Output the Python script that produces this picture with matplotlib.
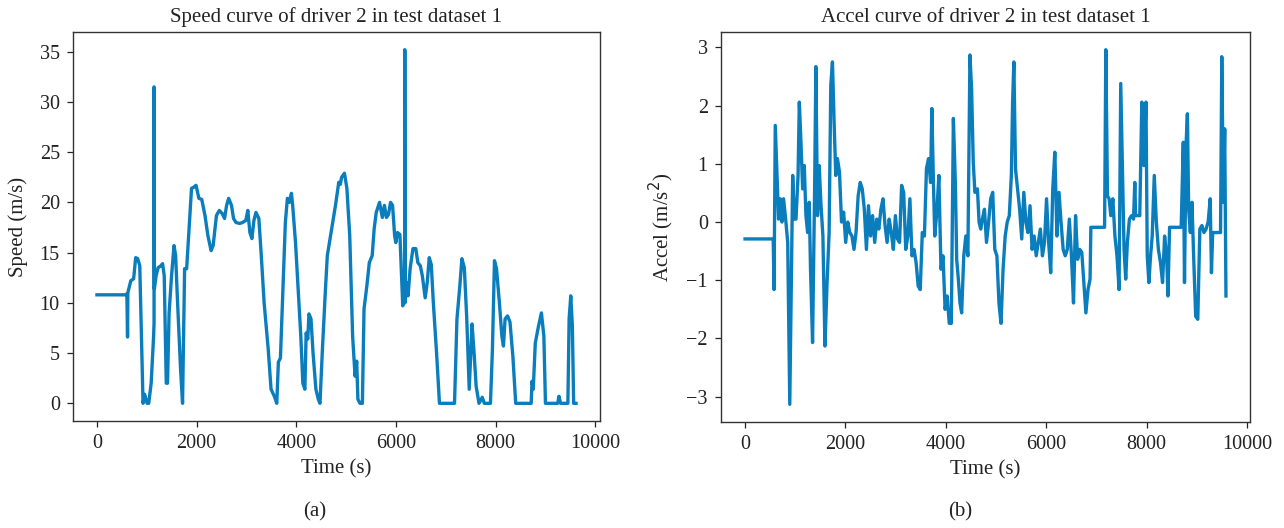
import matplotlib
matplotlib.use("Agg")
import matplotlib.pyplot as plt

plt.rcParams['font.family'] = ['Liberation Serif', 'DejaVu Serif']
plt.rcParams['axes.unicode_minus'] = True

# ---- Speed data (time in s, speed in m/s) ----
speed_t = [0, 573, 600, 614, 620, 679, 736, 777, 818, 859, 925, 957, 1006, 1039, 1088, 1137,
           1146, 1146, 1152, 1187, 1227, 1285, 1317, 1350, 1391, 1416, 1448, 1497, 1547, 1579,
           1612, 1678, 1718, 1759, 1800, 1841, 1898, 1939, 1988, 2046, 2103, 2168, 2226, 2291,
           2332, 2398, 2455, 2512, 2561, 2602, 2643, 2700, 2741, 2790, 2864, 2921, 2987, 3028,
           3069, 3110, 3150, 3191, 3249, 3298, 3355, 3437, 3494, 3560, 3609, 3641, 3682, 3723,
           3781, 3822, 3862, 3903, 3928, 3985, 4034, 4091, 4132, 4173, 4198, 4231, 4255, 4296,
           4337, 4394, 4443, 4476, 4525, 4582, 4623, 4689, 4746, 4787, 4853, 4885, 4910, 4967,
           5016, 5073, 5131, 5180, 5213, 5237, 5278, 5327, 5360, 5417, 5466, 5524, 5564, 5605,
           5671, 5728, 5769, 5810, 5851, 5892, 5933, 5974, 5998, 6031, 6080, 6137, 6162, 6176,
           6178, 6178, 6182, 6219, 6244, 6285, 6342, 6399, 6440, 6489, 6530, 6587, 6628, 6669,
           6710, 6751, 6816, 6874, 7176, 7225, 7283, 7324, 7373, 7422, 7471, 7528, 7569, 7610,
           7667, 7733, 7774, 7897, 7937, 7978, 8019, 8077, 8126, 8158, 8191, 8240, 8289, 8347,
           8404, 8715, 8731, 8756, 8797, 8862, 8920, 8969, 9001, 9247, 9272, 9304, 9451, 9476,
           9509, 9541, 9567, 9615]
speed_v = [10.8, 10.8, 10.9, 6.6, 11.0, 12.2, 12.4, 14.5, 14.4, 13.7, 0.0, 0.9, 0.0, 0.0, 2.0, 6.7,
           8.0, 31.5, 11.4, 12.7, 13.5, 13.7, 13.9, 12.7, 2.0, 2.0, 9.0, 12.7, 15.7, 14.7,
           10.7, 3.4, 0.0, 13.4, 13.4, 16.7, 21.4, 21.5, 21.7, 20.4, 20.3, 18.7, 16.7, 15.2,
           15.7, 18.7, 19.2, 18.9, 18.4, 19.7, 20.4, 19.7, 18.4, 18.0, 17.9, 18.0, 18.2, 19.2,
           17.0, 16.4, 18.2, 19.0, 18.4, 14.7, 10.0, 5.4, 1.4, 0.7, 0.0, 4.1, 4.5, 10.0,
           18.0, 20.4, 20.0, 20.9, 19.7, 16.0, 11.7, 6.7, 2.0, 1.4, 7.0, 6.4, 8.9, 8.4,
           5.0, 1.4, 0.4, 0.0, 5.4, 11.0, 14.7, 16.7, 18.4, 19.7, 22.0, 21.8, 22.5, 22.9,
           21.4, 16.7, 6.7, 2.7, 4.2, 0.4, 0.0, 0.0, 9.4, 11.7, 14.0, 14.7, 17.4, 19.0,
           20.0, 18.5, 19.7, 18.5, 18.8, 20.0, 19.7, 16.7, 16.0, 17.0, 16.8, 9.7, 11.0, 11.5,
           11.5, 35.2, 10.0, 12.0, 10.7, 13.4, 15.4, 15.4, 14.0, 13.7, 12.7, 10.5, 12.0, 14.5,
           13.8, 10.0, 5.0, 0.0, 0.0, 8.4, 11.7, 14.4, 13.5, 8.4, 1.4, 7.9, 5.0, 1.7,
           0.0, 0.6, 0.0, 0.0, 5.4, 14.2, 13.4, 10.0, 6.7, 5.7, 8.4, 8.7, 8.1, 4.7,
           0.0, 0.0, 2.2, 1.4, 6.0, 7.7, 9.0, 6.7, 0.0, 0.0, 0.7, 0.0, 0.0, 8.4,
           10.7, 7.7, 0.0, 0.0]

# ---- Acceleration data (time in s, accel in m/s^2) ----
accel_t = [0, 561, 578, 602, 644, 668, 701, 734, 767, 809, 850, 891, 932, 949, 982, 1015, 1056,
           1081, 1114, 1147, 1180, 1213, 1246, 1279, 1304, 1345, 1386, 1411, 1444, 1477, 1510,
           1551, 1592, 1634, 1675, 1708, 1741, 1774, 1807, 1840, 1881, 1922, 1964, 2005, 2046,
           2087, 2129, 2170, 2211, 2253, 2294, 2335, 2376, 2418, 2459, 2500, 2541, 2583, 2624,
           2665, 2706, 2748, 2789, 2830, 2871, 2913, 2954, 2995, 3036, 3078, 3119, 3160, 3201,
           3243, 3284, 3325, 3366, 3408, 3449, 3490, 3531, 3573, 3614, 3655, 3696, 3721, 3754,
           3779, 3820, 3861, 3903, 3944, 3985, 4026, 4068, 4109, 4150, 4191, 4216, 4249, 4282,
           4315, 4357, 4398, 4439, 4480, 4513, 4546, 4579, 4629, 4662, 4695, 4728, 4769, 4810,
           4852, 4893, 4934, 4975, 5017, 5058, 5099, 5140, 5182, 5223, 5264, 5305, 5330, 5355,
           5388, 5429, 5470, 5512, 5553, 5594, 5635, 5677, 5718, 5759, 5800, 5842, 5883, 5924,
           5965, 6006, 6048, 6089, 6130, 6171, 6213, 6254, 6295, 6337, 6378, 6419, 6460, 6502,
           6543, 6584, 6625, 6667, 6708, 6749, 6790, 6832, 6873, 6889, 7162, 7187, 7220, 7253,
           7286, 7327, 7368, 7409, 7451, 7484, 7517, 7550, 7583, 7616, 7657, 7698, 7739, 7764,
           7781, 7863, 7904, 7946, 7987, 8012, 8045, 8078, 8111, 8152, 8193, 8234, 8276, 8317,
           8358, 8399, 8424, 8457, 8688, 8730, 8754, 8787, 8812, 8837, 8870, 8903, 8936, 8977,
           9019, 9060, 9101, 9142, 9184, 9225, 9266, 9291, 9316, 9472, 9497, 9530, 9555, 9580]
accel_v = [-0.29, -0.29, -1.16, 1.66, 0.63, 0.05, 0.40, 0.00, 0.40, 0.05, -0.35, -3.13, -0.35, 0.80,
           0.05, 0.05, 0.80, 2.06, 1.37, 0.57, 0.97, 0.11, -0.18, 0.34, -0.81, -2.07, 0.57, 2.67,
           0.11, 0.97, 0.34, -0.24, -2.13, -1.04, -0.18, 2.35, 2.75, 1.72, 0.80, 1.09, 0.86, 0.00,
           0.17, -0.35, 0.00, -0.18, -0.24, -0.47, -0.18, 0.45, 0.68, 0.57, 0.22, -0.47, 0.28,
           -0.24, 0.11, -0.35, 0.05, -0.12, 0.22, 0.40, -0.06, -0.35, 0.05, -0.18, -0.47, 0.11,
           -0.29, -0.35, 0.63, 0.51, -0.47, -0.24, 0.40, -0.58, -0.47, -0.70, -1.10, -1.16, -0.18,
           -0.24, 0.92, 1.09, 0.68, 1.95, 0.63, -0.24, 0.17, 0.80, -0.81, -0.58, -1.50, -1.27,
           -1.74, -1.74, 1.78, 0.63, -0.64, -0.98, -1.39, -1.56, -0.58, -0.24, -0.58, 2.87, 2.29,
           1.03, 0.51, 0.57, 0.00, -0.12, 0.05, 0.22, -0.35, 0.00, 0.40, 0.51, -0.47, -0.58,
           -1.39, -1.74, -0.81, -0.24, 0.00, 0.11, 0.80, 2.06, 2.75, 0.91, 0.57, 0.22, -0.29,
           0.51, 0.00, -0.18, 0.28, -0.47, -0.24, -0.58, -0.35, -0.12, -0.58, -0.35, 0.40, -0.35,
           -0.87, 0.57, 1.20, -0.24, 0.51, 0.00, -0.47, -0.58, -0.47, 0.05, -0.58, -1.39, 0.11,
           -0.64, -0.47, -0.52, -1.04, -1.56, -1.16, -0.98, -0.09, -0.09, 2.96, 0.45, 0.40, 0.11,
           0.40, -0.24, -0.58, -1.16, 2.38, 0.91, -0.47, -0.98, -0.35, 0.05, 0.11, 0.05, 0.68,
           0.11, 0.11, 2.06, 0.97, 2.06, -0.58, -1.04, -0.58, -0.24, 0.80, 0.00, -0.47, -0.70,
           -1.04, -0.24, -0.58, -1.27, -0.09, -0.09, 1.37, -1.04, 1.37, 1.86, 0.22, -0.18, 0.34,
           -0.58, -1.62, -1.67, -0.12, -0.06, -0.18, -0.12, 0.00, 0.40, -0.87, -0.18, -0.18, 2.84,
           0.34, 1.60, -1.27]

xticks = [0, 2000, 4000, 6000, 8000, 10000]
titles = ["Speed curve of driver 2 in test dataset 1", "Accel curve of driver 2 in test dataset 1"]
ylabels = ["Speed (m/s)", "Accel (m/s$^2$)"]
panel_labels = ["(a)", "(b)"]

line_color = "#0a7dbd"
text_color = "#222222"

W, H = 1284, 528
fig = plt.figure(figsize=(W / 100, H / 100), dpi=100)
ax1 = fig.add_axes([73 / W, (H - 421) / H, 527 / W, 389 / H])
ax2 = fig.add_axes([721 / W, (H - 422) / H, 529 / W, 390 / H])

for ax, t, v, title, yl in [(ax1, speed_t, speed_v, titles[0], ylabels[0]),
                            (ax2, accel_t, accel_v, titles[1], ylabels[1])]:
    ax.plot(t, v, color=line_color, lw=2.4, solid_joinstyle='round')
    ax.set_xticks(xticks)
    ax.set_title(title, fontsize=15, color=text_color, pad=7)
    ax.set_xlabel("Time (s)", fontsize=15, color=text_color, labelpad=4)
    ax.set_ylabel(yl, fontsize=15, color=text_color)
    ax.yaxis.set_label_coords(-0.086, 0.5)
    ax.tick_params(axis='both', direction='out', length=4.5, width=0.9, labelsize=14.5,
                   colors=text_color, pad=5)
    for sp in ax.spines.values():
        sp.set_color("#333333")
        sp.set_linewidth(1.0)

ax1.set_yticks([0, 5, 10, 15, 20, 25, 30, 35])
ax2.set_yticks([-3, -2, -1, 0, 1, 2, 3])

fig.text(315 / W, 1 - 512 / H, panel_labels[0], ha='center', va='center', fontsize=15, color=text_color)
fig.text(960 / W, 1 - 512 / H, panel_labels[1], ha='center', va='center', fontsize=15, color=text_color)

fig.savefig("out.png", dpi=100)
